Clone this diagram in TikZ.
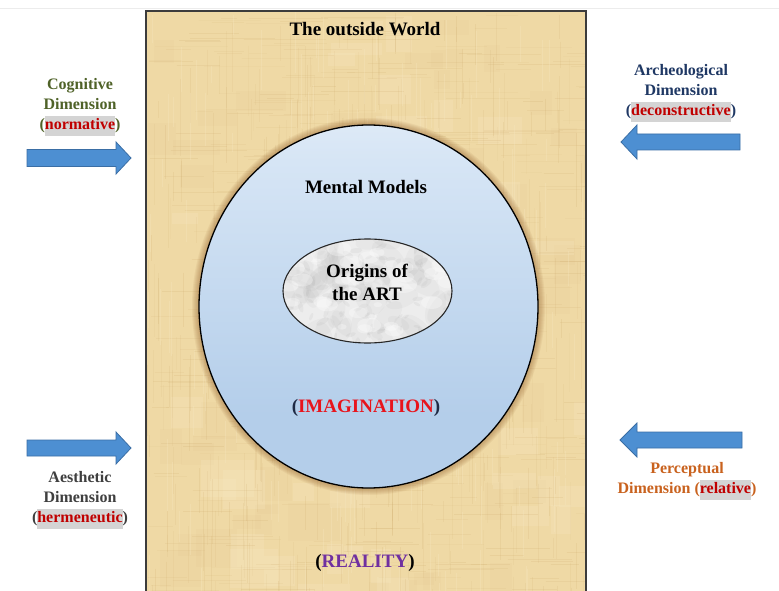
\documentclass[tikz,border=0pt]{standalone}
\usepackage{fontspec}
\setmainfont{Liberation Serif}
\definecolor{papyrus}{HTML}{EFD9A5}
\definecolor{papyrusdark}{HTML}{C9A465}
\definecolor{papyruslight}{HTML}{F7E8C2}
\definecolor{framegray}{HTML}{3C3C3C}
\definecolor{skytop}{HTML}{FFFFFF}
\definecolor{skymid}{HTML}{D6E5F5}
\definecolor{skybot}{HTML}{B4CEEA}
\definecolor{glow}{HTML}{8A5522}
\definecolor{marble}{HTML}{EDEDED}
\definecolor{marbledark}{HTML}{9A9A9A}
\definecolor{arrowblue}{HTML}{4D8FD2}
\definecolor{arrowedge}{HTML}{3A6EA5}
\definecolor{cogreen}{HTML}{4F6228}
\definecolor{archblue}{HTML}{1F3864}
\definecolor{aesgray}{HTML}{3F3F3F}
\definecolor{percorange}{HTML}{C9621E}
\definecolor{wordred}{HTML}{C00000}
\definecolor{imagred}{HTML}{E8141C}
\definecolor{imagparen}{HTML}{1F2A44}
\definecolor{realpurple}{HTML}{7030A0}
\definecolor{hlgray}{HTML}{D4D4D4}
\pgfdeclareverticalshading{mindsky}{100bp}{
  color(0bp)=(skybot); color(35bp)=(skybot); color(70bp)=(skymid); color(100bp)=(skytop)}
\newcommand{\hlword}[2]{{\setlength{\fboxsep}{0pt}\colorbox{hlgray}{\strut\textcolor{#1}{#2}}}}
\tikzset{
  sidelabel/.style={font=\bfseries\fontsize{16}{20}\selectfont, align=center, inner sep=0pt},
  bigtext/.style={font=\bfseries\fontsize{19}{23}\selectfont, align=center, inner sep=0pt},
  blockarrow/.style={fill=arrowblue, draw=arrowedge, line width=0.8pt, line join=miter},
}
\begin{document}
\begin{tikzpicture}[x=1pt, y=-1pt]
\useasboundingbox (0,0) rectangle (779,591);
\fill[white] (0,0) rectangle (779,591);
\draw[gray!15, line width=0.8pt] (0,8) -- (779,8);

% papyrus panel: base colour, soft patches and a fine weave of fibres
\begin{scope}
  \clip (146,11) rectangle (586,600);
  \fill[papyrus] (146,11) rectangle (586,600);
  \pgfmathsetseed{7}
  \foreach \i in {1,...,60}{
    \pgfmathsetmacro{\bx}{146+440*rnd}
    \pgfmathsetmacro{\by}{11+590*rnd}
    \pgfmathsetmacro{\bw}{15+40*rnd}
    \pgfmathsetmacro{\bh}{10+30*rnd}
    \fill[papyrusdark, opacity=0.045] (\bx,\by) rectangle (\bx+\bw,\by+\bh);
  }
  \foreach \i in {1,...,40}{
    \pgfmathsetmacro{\bx}{146+440*rnd}
    \pgfmathsetmacro{\by}{11+590*rnd}
    \pgfmathsetmacro{\bw}{15+40*rnd}
    \pgfmathsetmacro{\bh}{10+30*rnd}
    \fill[papyruslight, opacity=0.25] (\bx,\by) rectangle (\bx+\bw,\by+\bh);
  }
  \foreach \i in {1,...,420}{
    \pgfmathsetmacro{\fx}{146+440*rnd}
    \pgfmathsetmacro{\fy}{11+590*rnd}
    \pgfmathsetmacro{\fl}{15+70*rnd}
    \pgfmathsetmacro{\fo}{0.05+0.12*rnd}
    \draw[papyrusdark, line width=0.45pt, opacity=\fo] (\fx,\fy) -- (\fx,\fy+\fl);
  }
  \foreach \i in {1,...,420}{
    \pgfmathsetmacro{\fx}{146+440*rnd}
    \pgfmathsetmacro{\fy}{11+590*rnd}
    \pgfmathsetmacro{\fl}{15+70*rnd}
    \pgfmathsetmacro{\fo}{0.05+0.12*rnd}
    \draw[papyrusdark, line width=0.45pt, opacity=\fo] (\fx,\fy) -- (\fx+\fl,\fy);
  }
  \foreach \i in {1,...,160}{
    \pgfmathsetmacro{\fx}{146+440*rnd}
    \pgfmathsetmacro{\fy}{11+590*rnd}
    \pgfmathsetmacro{\fl}{15+60*rnd}
    \draw[papyruslight, line width=0.9pt, opacity=0.3] (\fx,\fy) -- (\fx,\fy+\fl);
  }
\end{scope}
\draw[framegray, line width=1.4pt] (146,600) -- (146,11) -- (586,11) -- (586,600);

% soft brown halo round the mind
\foreach \r in {1,...,7}{
  \pgfmathsetmacro{\rx}{169.5+\r}
  \pgfmathsetmacro{\ry}{181.5+\r}
  \fill[glow, opacity=0.07] (368.5,306.5) ellipse [x radius=\rx, y radius=\ry];
}
\shade[shading=mindsky] (368.5,306.5) ellipse [x radius=169.5, y radius=181.5];
\draw[black, line width=1.3pt] (368.5,306.5) ellipse [x radius=169.5, y radius=181.5];

% marble core
\begin{scope}
  \clip (367.5,291) ellipse [x radius=84.5, y radius=52];
  \fill[marble] (280,235) rectangle (455,345);
  \pgfmathsetseed{21}
  \foreach \i in {1,...,70}{
    \pgfmathsetmacro{\mx}{283+170*rnd}
    \pgfmathsetmacro{\my}{238+106*rnd}
    \pgfmathsetmacro{\mr}{6+16*rnd}
    \pgfmathsetmacro{\ma}{180*rnd}
    \fill[marbledark, opacity=0.07, rotate around={\ma:(\mx,\my)}] (\mx,\my) ellipse [x radius=\mr, y radius=0.5*\mr];
  }
  \foreach \i in {1,...,90}{
    \pgfmathsetmacro{\mx}{283+170*rnd}
    \pgfmathsetmacro{\my}{238+106*rnd}
    \pgfmathsetmacro{\mr}{2+5*rnd}
    \pgfmathsetmacro{\ma}{180*rnd}
    \fill[marbledark, opacity=0.10, rotate around={\ma:(\mx,\my)}] (\mx,\my) ellipse [x radius=\mr, y radius=0.4*\mr];
  }
  \foreach \i in {1,...,40}{
    \pgfmathsetmacro{\mx}{283+170*rnd}
    \pgfmathsetmacro{\my}{238+106*rnd}
    \pgfmathsetmacro{\mr}{4+10*rnd}
    \fill[white, opacity=0.3] (\mx,\my) ellipse [x radius=\mr, y radius=0.6*\mr];
  }
\end{scope}
\draw[black!85, line width=1.1pt] (367.5,291) ellipse [x radius=84.5, y radius=52];

% texts on the panel
\node[bigtext] (world) at (365,29) {The outside World};
\node[bigtext] (mental) at (366,187) {Mental Models};
\node[bigtext] (origins) at (367,282) {Origins of\\the ART};
\node[bigtext, text=imagparen] (imag) at (366,408) {(\textcolor{imagred}{IMAGINATION})};
\node[bigtext, text=black] (reality) at (365,563) {(\textcolor{realpurple}{REALITY})};

% block arrows
\filldraw[blockarrow] (27,149.5) -- (116,149.5) -- (116,142) -- (131,158) -- (116,174) -- (116,166.5) -- (27,166.5) -- cycle;
\filldraw[blockarrow] (27,440) -- (116,440) -- (116,432) -- (131,448) -- (116,464) -- (116,456) -- (27,456) -- cycle;
\filldraw[blockarrow] (740,134) -- (637,134) -- (637,125) -- (621,142) -- (637,159) -- (637,150) -- (740,150) -- cycle;
\filldraw[blockarrow] (742,432) -- (637,432) -- (637,423) -- (620,440) -- (637,457) -- (637,448) -- (742,448) -- cycle;

% dimension labels
\node[sidelabel, text=cogreen] (cog) at (80,107) {Cognitive\\Dimension\\(\hlword{wordred}{normative})};
\node[sidelabel, text=archblue] (arch) at (681,93) {Archeological\\Dimension\\(\hlword{wordred}{deconstructive})};
\node[sidelabel, text=aesgray] (aes) at (80,500) {Aesthetic\\Dimension\\(\hlword{wordred}{hermeneutic})};
\node[sidelabel, text=percorange] (perc) at (687,481) {Perceptual\\Dimension (\hlword{wordred}{relative})};
\end{tikzpicture}
\end{document}
